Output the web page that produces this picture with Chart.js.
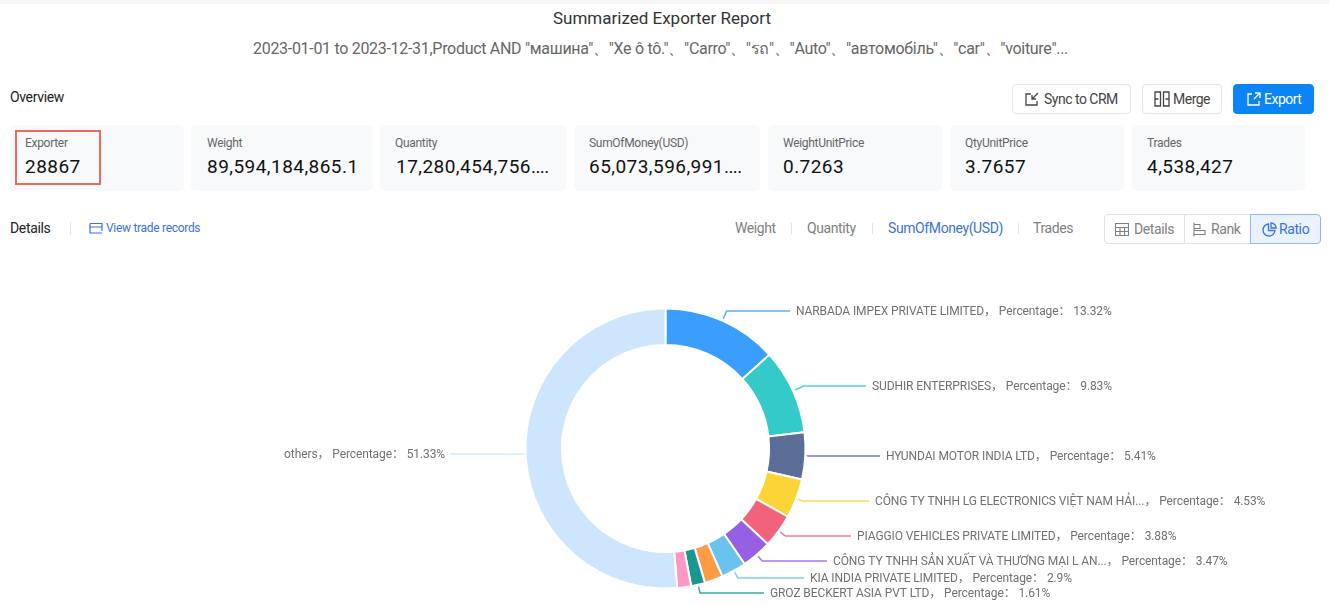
<!DOCTYPE html>
<html>
<head>
<meta charset="utf-8">
<title>Summarized Exporter Report</title>
<script src="https://cdn.jsdelivr.net/npm/chart.js@4"></script>
<style>
  html, body { margin: 0; padding: 0; background: #fff; }
  body { position: relative; width: 1329px; height: 606px; overflow: hidden; font-family: Roboto, "Noto Sans", sans-serif; color: #333; }
  .abs { position: absolute; white-space: nowrap; }
  .topband { left: 0; top: 0; width: 1329px; height: 4px; background: #f6f6f7; }
  .title { left: 0; width: 1324px; top: 7px; text-align: center; font-size: 17px; line-height: 22px; color: #333; }
  .subtitle { left: 0; width: 1321px; top: 39px; text-align: center; font-size: 16px; line-height: 20px; color: #666; letter-spacing: -.3px; }
  .heading { font-size: 14px; line-height: 18px; color: #222; letter-spacing: -.35px; }
  .card { top: 125px; height: 66px; background: #f8f9fb; border-radius: 5px; }
  .card .name { position: absolute; top: 11px; left: 15px; font-size: 12px; line-height: 15px; color: #666; letter-spacing: -.3px; }
  .card .value { position: absolute; top: 30px; left: 15px; font-size: 19px; line-height: 24px; font-weight: 400; color: #111; letter-spacing: .45px; }
  .card .value i { font-style: normal; letter-spacing: -.6px; }
  .btn { top: 84px; height: 28px; border: 1px solid #e4e6ea; border-radius: 4px; background: #fff; font-size: 14px; line-height: 28px; color: #444; letter-spacing: -.5px; }
  .btn svg, .seg svg { position: absolute; }
  .btn span, .seg span { position: absolute; }
  .btn.primary { background: #0b84f5; border-color: #0b84f5; color: #fff; }
  .tab { top: 219px; font-size: 14px; line-height: 18px; color: #808080; letter-spacing: -.4px; }
  .tab.on { color: #3b72d9; }
  .sep { width: 1px; background: #e2e4e8; }
  .seg { top: 214px; height: 28px; border: 1px solid #dfe2e6; background: #fff; font-size: 14px; line-height: 28px; color: #808080; letter-spacing: -.4px; }
  .seg.on { border-color: #8db8ee; background: #e9f2fd; color: #3b72d9; }
  .redbox { left: 15px; top: 130px; width: 82px; height: 51px; border: 2px solid #ee6a5e; }
  #chartWrap { position: absolute; left: 0; top: 250px; width: 1329px; height: 356px; }
</style>
</head>
<body>
<div class="abs topband"></div>
<div class="abs title">Summarized Exporter Report</div>
<div class="abs subtitle">2023-01-01 to 2023-12-31,Product AND "машина"、"Xe ô tô."、"Carro"、"รถ"、"Auto"、"автомобіль"、"car"、"voiture"...</div>

<div class="abs heading" style="left:10px;top:88px">Overview</div>

<div class="abs btn" style="left:1012px;width:117px">
  <svg style="left:11px;top:7px" width="16" height="15" viewBox="0 0 16 15" fill="none" stroke="#444" stroke-width="1.3"><path d="M7 2H2v11h11V9M14 1 8 7M8 3v4h4"/></svg>
  <span style="left:31px">Sync to CRM</span>
</div>
<div class="abs btn" style="left:1142px;width:78px">
  <svg style="left:11px;top:6px" width="16" height="16" viewBox="0 0 16 16" fill="none" stroke="#444" stroke-width="1.3"><path d="M1 1h5.5v14H1zM9.500 1H15v14H9.500zM1 8h3.500M15 8h-3.500"/></svg>
  <span style="left:30px">Merge</span>
</div>
<div class="abs btn primary" style="left:1233px;width:79px">
  <svg style="left:12px;top:7px" width="15" height="15" viewBox="0 0 15 15" fill="none" stroke="#fff" stroke-width="1.3"><path d="M6 2H2v11h11V9M8 7l6-6M9 1h5v5"/></svg>
  <span style="left:30px">Export</span>
</div>

<div class="abs card" style="left:10px;width:174px"><div class="name">Exporter</div><div class="value">28867</div></div>
<div class="abs card" style="left:191px;width:182px"><div class="name" style="left:16px">Weight</div><div class="value" style="left:16px">89,594,184,865.1</div></div>
<div class="abs card" style="left:380px;width:186px"><div class="name">Quantity</div><div class="value" style="left:16px">17,280,454,756<i>....</i></div></div>
<div class="abs card" style="left:574px;width:186px"><div class="name">SumOfMoney(USD)</div><div class="value">65,073,596,991<i>....</i></div></div>
<div class="abs card" style="left:768px;width:174px"><div class="name">WeightUnitPrice</div><div class="value">0.7263</div></div>
<div class="abs card" style="left:950px;width:174px"><div class="name">QtyUnitPrice</div><div class="value">3.7657</div></div>
<div class="abs card" style="left:1132px;width:173px"><div class="name">Trades</div><div class="value">4,538,427</div></div>
<div class="abs redbox"></div>

<div class="abs heading" style="left:10px;top:219px">Details</div>
<div class="abs sep" style="left:70px;top:222px;height:13px"></div>
<svg class="abs" style="left:89px;top:222px" width="14" height="13" viewBox="0 0 14 13" fill="none" stroke="#3b72d9" stroke-width="1.2"><path d="M1 1.500h12v7.500M1 1.500v9.500h9M1 5h12M9 11h4"/></svg>
<div class="abs" style="left:106px;top:220px;font-size:12px;line-height:16px;color:#3b72d9;letter-spacing:-.3px">View trade records</div>

<div class="abs tab" style="left:735px">Weight</div>
<div class="abs sep" style="left:791px;top:223px;height:11px"></div>
<div class="abs tab" style="left:807px">Quantity</div>
<div class="abs sep" style="left:872px;top:223px;height:11px"></div>
<div class="abs tab on" style="left:888px">SumOfMoney(USD)</div>
<div class="abs sep" style="left:1018px;top:223px;height:11px"></div>
<div class="abs tab" style="left:1033px">Trades</div>

<div class="abs seg" style="left:1104px;width:79px;border-radius:4px 0 0 4px">
  <svg style="left:10px;top:8px" width="14" height="13" viewBox="0 0 14 13" fill="none" stroke="#808080" stroke-width="1.1"><path d="M.5.5h13v12H.5zM.5 4.500h13M.5 8.500h13M5 4.500v8M9.500 4.500v8"/></svg>
  <span style="left:29px">Details</span>
</div>
<div class="abs seg" style="left:1185px;width:65px;border-left:none">
  <svg style="left:8px;top:7px" width="14" height="15" viewBox="0 0 14 15" fill="none" stroke="#808080" stroke-width="1.1"><path d="M1 .5v14M1 2.500h6v4H1M1 8.500h11v4H1"/></svg>
  <span style="left:26px">Rank</span>
</div>
<div class="abs seg on" style="left:1250px;width:69px;border-radius:0 4px 4px 0">
  <svg style="left:11px;top:7px" width="15" height="15" viewBox="0 0 15 15" fill="none" stroke="#3b72d9" stroke-width="1.3"><path d="M6.500 2a6 6 0 1 0 6.500 6.500H6.500zM9 .8A6 6 0 0 1 14.200 6H9z"/></svg>
  <span style="left:28px">Ratio</span>
</div>

<div id="chartWrap"><canvas id="ratioChart"></canvas></div>

<script>
(function () {
    'use strict';

    /* ── Data ── */
    var exporters = [
        'NARBADA IMPEX PRIVATE LIMITED',
        'SUDHIR ENTERPRISES',
        'HYUNDAI MOTOR INDIA LTD',
        'CÔNG TY TNHH LG ELECTRONICS VIỆT NAM HẢI...',
        'PIAGGIO VEHICLES PRIVATE LIMITED',
        'CÔNG TY TNHH SẢN XUẤT VÀ THƯƠNG MẠI L AN...',
        'KIA INDIA PRIVATE LIMITED',
        '',
        'GROZ BECKERT ASIA PVT LTD',
        '',
        'others'
    ];
    var percentages = [13.32, 9.83, 5.41, 4.53, 3.88, 3.47, 2.9, 2.12, 1.61, 1.6, 51.33];
    var sliceColours = [
        '#3a9eff', '#34caca', '#5b6e96', '#fbd437', '#f2637b', '#975fe4',
        '#69c3ee', '#ff9a45', '#1b9690', '#ff99c3', '#cde5fd'
    ];

    /* ── Where each outside label sits: x where its leader ends, y of its text ── */
    var leaderEndX = [790, 866, 880, 869, 851, 827, 804, null, 764, null, 450];
    var labelY = [311, 386, 456, 501, 536, 561, 578, null, 593, null, 454];

    var labelFont = '12px Roboto, "Noto Sans", "Noto Sans CJK SC", sans-serif';

    /* ── Leader lines and labels, hung off the arc elements ── */
    var leaderLabels = {
        id: 'leaderLabels',
        afterDatasetsDraw: function (chart) {
            var ctx = chart.ctx;
            var wrapTop = chart.canvas.getBoundingClientRect().top;
            chart.getDatasetMeta(0).data.forEach(function (arc, i) {
                if (!exporters[i]) {
                    return;
                }
                var p = arc.getProps(['x', 'y', 'startAngle', 'endAngle', 'outerRadius'], true);
                var mid = (p.startAngle + p.endAngle) / 2;
                var r = p.outerRadius + 2;
                var sx = p.x + Math.cos(mid) * r;
                var sy = p.y + Math.sin(mid) * r;
                var y = labelY[i] - wrapTop;
                var left = exporters[i] === 'others';
                var ex = left ? sx : sx + (y - sy) * (Math.cos(mid) / Math.sin(mid));
                if (Math.abs(Math.sin(mid)) < 0.1) {
                    ex = sx;
                }

                ctx.save();
                ctx.globalAlpha = 0.85;
                ctx.strokeStyle = sliceColours[i];
                ctx.lineWidth = 1.5;
                ctx.beginPath();
                ctx.moveTo(sx, sy);
                ctx.lineTo(ex, y);
                ctx.lineTo(leaderEndX[i], y);
                ctx.stroke();
                ctx.restore();

                ctx.save();
                ctx.font = labelFont;
                ctx.letterSpacing = '-0.1px';
                ctx.fillStyle = '#707070';
                ctx.textBaseline = 'middle';
                ctx.textAlign = left ? 'right' : 'left';
                var text = exporters[i] + '， Percentage： ' + percentages[i] + '%';
                ctx.fillText(text, leaderEndX[i] + (left ? -5 : 6), y + 1);
                ctx.restore();
            });
        }
    };

    new Chart(document.getElementById('ratioChart'), {
        type: 'doughnut',
        data: {
            labels: exporters,
            datasets: [{
                data: percentages,
                backgroundColor: sliceColours,
                borderColor: '#fff',
                borderWidth: 2,
                hoverBorderWidth: 2
            }]
        },
        plugins: [leaderLabels],
        options: {
            responsive: true,
            maintainAspectRatio: false,
            animation: false,
            cutout: '74%',
            layout: {
                padding: { left: 524.5, right: 522.5, top: 57.5, bottom: 16.5 }
            },
            plugins: {
                legend: { display: false },
                tooltip: { enabled: false }
            }
        }
    });
})();
</script>
</body>
</html>
